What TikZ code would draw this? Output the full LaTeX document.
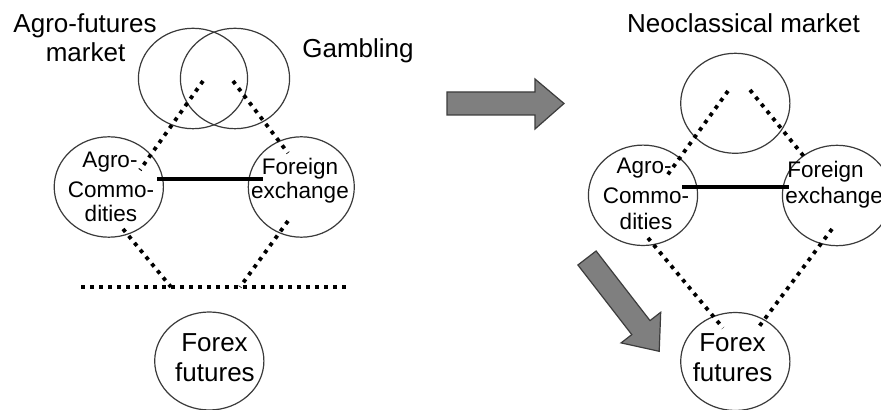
\documentclass[tikz,border=0pt]{standalone}
\usepackage{fontspec}
\setmainfont{Liberation Sans}
\usetikzlibrary{shapes.geometric}
\definecolor{circgray}{HTML}{3A3A3A}
\definecolor{arrowfill}{HTML}{7F7F7F}
\definecolor{arrowline}{HTML}{3C3C3C}
\begin{document}
\begin{tikzpicture}[x=0.25mm,y=-0.25mm,
  circ/.style={ellipse, draw=circgray, line width=0.3mm, inner sep=0pt,
               minimum width=27.3mm, minimum height=25.1mm},
  bigtxt/.style={inner sep=0pt, anchor=base, font=\fontsize{18.5}{21}\selectfont},
  smalltxt/.style={inner sep=0pt, anchor=base, font=\fontsize{16}{19}\selectfont},
  dotline/.style={line width=0.95mm, dash pattern=on 0.95mm off 1.3mm},
  solidline/.style={line width=0.9mm},
  blockarrow/.style={fill=arrowfill, draw=arrowline, line width=0.3mm, line join=miter}]
\useasboundingbox (0,0) rectangle (881,410);
\fill[white] (0,0) rectangle (881,410);

% ---------- left diagram ----------
\node[circ] (l1) at (193,78.5) {};
\node[circ] (l2) at (235,78.5) {};
\node[circ] (la) at (108.8,187) {};
\node[circ, minimum width=26.5mm] (lf) at (301.3,187) {};
\node[circ, minimum height=24.5mm] (lx) at (209.3,361) {};

\node[bigtxt] (t1) at (85,33) {Agro-futures};
\node[bigtxt] (t2) at (85.5,62) {market};
\node[bigtxt] (t3) at (358,58) {Gambling};
\node[smalltxt] (t4) at (110,168) {Agro-};
\node[smalltxt] (t5) at (111,198) {Commo-};
\node[smalltxt] (t6) at (111,222) {dities};
\node[smalltxt] (t7) at (300,175) {Foreign};
\node[smalltxt] (t8) at (300,199) {exchange};
\node[bigtxt] (t9) at (214.5,352) {Forex};
\node[bigtxt] (t10) at (215,382) {futures};

\coordinate (a1) at (203,81);  \coordinate (a2) at (140,170);
\coordinate (b1) at (233,81);  \coordinate (b2) at (288,153);
\coordinate (s1) at (157,179); \coordinate (s2) at (263,179);
\coordinate (c1) at (123,229); \coordinate (c2) at (171,287);
\coordinate (e1) at (288,221); \coordinate (e2) at (240,287);
\coordinate (h1) at (81,287);  \coordinate (h2) at (348,287);
\draw[dotline] (a1) -- (a2);
\draw[dotline] (b1) -- (b2);
\draw[solidline] (s1) -- (s2);
\draw[dotline] (c1) -- (c2);
\draw[dotline] (e1) -- (e2);
\draw[dotline] (h1) -- (h2);

% ---------- arrows ----------
\draw[blockarrow] (447,92) -- (535,92) -- (535,79) -- (564,103.5) -- (535,129) -- (535,115) -- (447,115) -- cycle;
\draw[blockarrow] (577.9,265) -- (631.8,334.6) -- (621.1,342.9) -- (659.2,351.3) -- (660.7,312.3) -- (650.0,320.6) -- (596.1,251) -- cycle;

% ---------- right diagram ----------
\node[circ, minimum height=25mm] (r1) at (735.3,103.3) {};
\node[circ] (ra) at (643,195.3) {};
\node[circ] (rf) at (837,195.5) {};
\node[circ, minimum height=24.5mm] (rx) at (735.3,361.5) {};

\node[bigtxt] (u1) at (743.5,33) {Neoclassical market};
\node[smalltxt] (u2) at (644,174) {Agro-};
\node[smalltxt] (u3) at (646,204) {Commo-};
\node[smalltxt] (u4) at (646,230) {dities};
\node[smalltxt, anchor=base west] (u5) at (787,178) {Foreign};
\node[smalltxt, anchor=base west] (u6) at (785,204) {exchange};
\node[bigtxt] (u7) at (732.5,352) {Forex};
\node[bigtxt] (u8) at (732.5,382) {futures};

\coordinate (f1) at (728,91);  \coordinate (f2) at (666,177);
\coordinate (g1) at (750,90);  \coordinate (g2) at (806,159);
\coordinate (k1) at (682,187); \coordinate (k2) at (789,187);
\coordinate (m1) at (648,238); \coordinate (m2) at (723,328);
\coordinate (n1) at (832,229); \coordinate (n2) at (758,328);
\draw[dotline] (f1) -- (f2);
\draw[dotline] (g1) -- (g2);
\draw[solidline] (k1) -- (k2);
\draw[dotline] (m1) -- (m2);
\draw[dotline] (n1) -- (n2);
\end{tikzpicture}
\end{document}
